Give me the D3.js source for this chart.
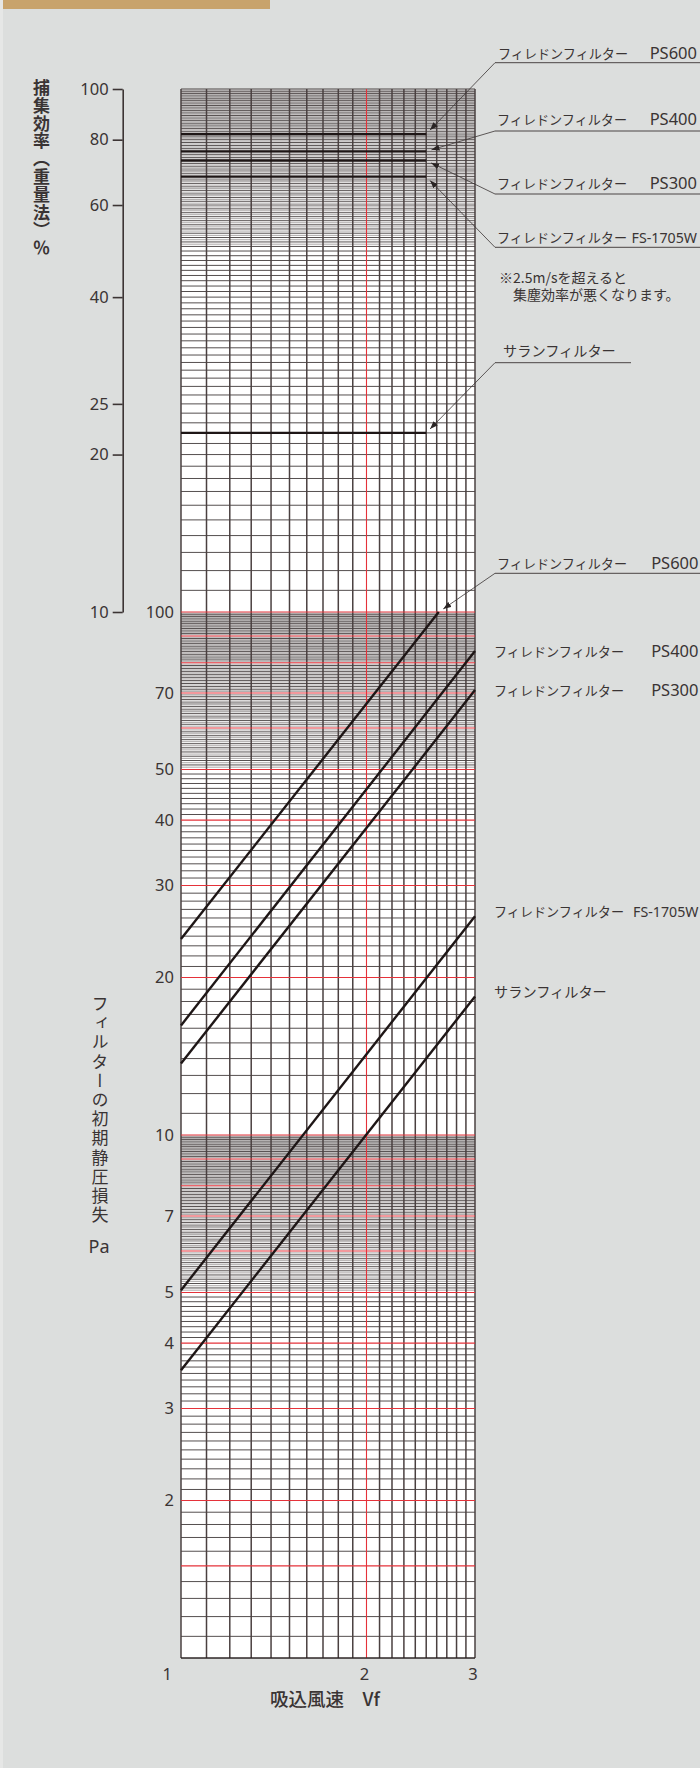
<!DOCTYPE html>
<html><head><meta charset="utf-8">
<script src="https://cdn.jsdelivr.net/npm/d3@7"></script>
<style>
html,body{margin:0;padding:0;background:#dcdedd;}
svg{display:block;}
</style></head><body>
<svg id="c" width="700" height="1768"></svg>
<script>
// ---------- DATA ----------
const velocityTicks = [1, 2, 3];
const efficiencyTicks = [100, 80, 60, 40, 25, 20, 10];
const pressureTicks = [100, 70, 50, 40, 30, 20, 10, 7, 5, 4, 3, 2];
const filterNames = ["フィレドンフィルター", "フィレドンフィルター", "フィレドンフィルター", "フィレドンフィルター", "サランフィルター"];
const filterCodes = ["PS600", "PS400", "PS300", "FS-1705W", ""];
// collection efficiency (%) – horizontal lines from 1 to 2.5 m/s
const efficiencyValues = [82, 76, 73, 68, 22];
const efficiencyVelocityRange = [1, 2.5];
// initial pressure loss (Pa) vs velocity: [velocity, pressure] end points
const pressurePS600 = [[1, 23.7], [2.62, 100]];
const pressurePS400 = [[1, 16.2], [3, 84.2]];
const pressurePS300 = [[1, 13.7], [3, 70.9]];
const pressureFS1705W = [[1, 5.05], [3, 26.2]];
const pressureSaran = [[1, 3.55], [3, 18.4]];
const pressureSeries = [pressurePS600, pressurePS400, pressurePS300, pressureFS1705W, pressureSaran];
const redPressureLines = [1.5, 2, 3, 4, 5, 6, 7, 8, 9, 10, 20, 30, 40, 50, 60, 70, 80, 90, 100];
const noteLines = ["※2.5m/sを超えると", "集塵効率が悪くなります。"];
const effTitle = "捕集効率（重量法）％";
const presTitle = "フィルターの初期静圧損失";
const presUnit = "Pa";
const xTitle = "吸込風速　Vf";

// ---------- SCALES ----------
const svg = d3.select("#c");
const X0 = 181, X1 = 475, YT = 89, YB = 1658;
const x = d3.scaleLog().domain([1, 3]).range([X0, X1]);
const yG = d3.scaleLog().domain([1, 1000]).range([YB, YT]);
const yP = d3.scaleLog().domain([1, 100]).range([YB, yG(100)]);
const yE = d3.scaleLog().domain([10, 100]).range([yG(100), YT]);

const TXT = "#3a3434";
const JP = "'Noto Sans CJK JP', 'Noto Sans', sans-serif";
const LAT = "'Noto Sans', 'Noto Sans CJK JP', sans-serif";

// background details
svg.append("rect").attr("x", 0).attr("y", 0).attr("width", 700).attr("height", 1768).attr("fill", "#dcdedd");
svg.append("rect").attr("x", 0).attr("y", 0).attr("width", 3).attr("height", 1768).attr("fill", "#e6e7e6");
svg.append("rect").attr("x", 3).attr("y", 0).attr("width", 267).attr("height", 9).attr("fill", "#c8a36c");

// ---------- GRID ----------
svg.append("rect").attr("x", X0).attr("y", YT).attr("width", X1 - X0).attr("height", YB - YT).attr("fill", "#fff");

const hMajor = [], hHalf = [];
[1, 10, 100].forEach(b => {
  for (let i = 10; i < 50; i++) hMajor.push(b * i / 10);
  for (let k = 100; k < 200; k++) {
    if (k % 2 === 0) hMajor.push(b * k / 20); else hHalf.push(b * k / 20);
  }
});
hMajor.push(1000);

const grid = svg.append("g");
grid.selectAll(".hh").data(hHalf).join("line")
  .attr("x1", X0).attr("x2", X1).attr("y1", d => yG(d)).attr("y2", d => yG(d))
  .attr("stroke", "#969191").attr("stroke-width", 0.8);
grid.selectAll(".hm").data(hMajor.filter(d => !redPressureLines.includes(d))).join("line")
  .attr("x1", X0).attr("x2", X1).attr("y1", d => yG(d)).attr("y2", d => yG(d))
  .attr("stroke", "#1c1414").attr("stroke-width", 0.75);

const vVals = d3.range(10, 31).map(d => d / 10);
grid.selectAll(".vl").data(vVals.filter(d => d !== 2)).join("line")
  .attr("x1", d => x(d)).attr("x2", d => x(d)).attr("y1", YT).attr("y2", YB)
  .attr("stroke", "#4a4040").attr("stroke-width", 1.5);

grid.selectAll(".hr").data(redPressureLines).join("line")
  .attr("x1", X0).attr("x2", X1).attr("y1", d => yP(d)).attr("y2", d => yP(d))
  .attr("stroke", "#e5323a").attr("stroke-width", 1.1);
grid.append("line").attr("x1", x(2)).attr("x2", x(2)).attr("y1", YT).attr("y2", YB)
  .attr("stroke", "#e5323a").attr("stroke-width", 1.1);
// bottom border
grid.append("line").attr("x1", X0).attr("x2", X1).attr("y1", YB).attr("y2", YB)
  .attr("stroke", "#1c1414").attr("stroke-width", 1.2);

// ---------- DATA LINES ----------
const lineCol = "#1e1616";
svg.append("g").selectAll("line").data(efficiencyValues).join("line")
  .attr("x1", x(efficiencyVelocityRange[0])).attr("x2", x(efficiencyVelocityRange[1]))
  .attr("y1", d => yE(d)).attr("y2", d => yE(d))
  .attr("stroke", lineCol).attr("stroke-width", 2.4);

const pLine = d3.line().x(d => x(d[0])).y(d => yP(d[1]));
svg.append("g").selectAll("path").data(pressureSeries).join("path")
  .attr("d", pLine).attr("fill", "none").attr("stroke", lineCol).attr("stroke-width", 2.4);

// ---------- AXES ----------
const effAxis = svg.append("g").attr("transform", "translate(122.7,0)")
  .call(d3.axisLeft(yE).tickValues(efficiencyTicks).tickFormat(d3.format("d")).tickSize(10).tickSizeOuter(0).tickPadding(4));
effAxis.select(".domain").attr("stroke", "#3c3434").attr("stroke-width", 1.6);
effAxis.selectAll(".tick line").attr("stroke", "#3c3434").attr("stroke-width", 1.6);
effAxis.selectAll("text").attr("fill", TXT).attr("font-size", 16.5).attr("font-family", LAT);

const presAxis = svg.append("g").attr("transform", `translate(${X0},0)`)
  .call(d3.axisLeft(yP).tickValues(pressureTicks).tickFormat(d3.format("d")).tickSize(0).tickPadding(7));
presAxis.select(".domain").remove();
presAxis.selectAll("text").attr("fill", TXT).attr("font-size", 16.5).attr("font-family", LAT);

svg.append("g").selectAll("text").data(velocityTicks).join("text")
  .attr("x", d => d === 1 ? x(d) - 9 : x(d) - 2)
  .attr("y", YB + 22)
  .attr("text-anchor", d => d === 1 ? "end" : "middle")
  .attr("fill", TXT).attr("font-size", 16.5).attr("font-family", LAT)
  .text(d => d);

// titles
svg.append("text").attr("x", 41.5).attr("y", 79)
  .style("writing-mode", "vertical-rl").attr("letter-spacing", 0.8)
  .attr("font-family", JP).attr("font-size", 17).attr("font-weight", 700).attr("fill", TXT)
  .text(effTitle);
svg.append("text").attr("x", 100).attr("y", 995)
  .style("writing-mode", "vertical-rl").attr("letter-spacing", 2.2)
  .attr("font-family", JP).attr("font-size", 17).attr("fill", TXT)
  .text(presTitle);
svg.append("text").attr("x", 99).attr("y", 1253).attr("text-anchor", "middle")
  .attr("font-family", LAT).attr("font-size", 18).attr("fill", TXT).text(presUnit);
svg.append("text").attr("x", 325).attr("y", 1706).attr("text-anchor", "middle")
  .attr("font-family", JP).attr("font-size", 18.5).attr("font-weight", 500).attr("fill", TXT).text(xTitle);

// ---------- LABELS ----------
const defs = svg.append("defs");
defs.append("marker").attr("id", "ah").attr("viewBox", "0 0 8 6").attr("refX", 8).attr("refY", 3)
  .attr("markerWidth", 8).attr("markerHeight", 6).attr("markerUnits", "userSpaceOnUse").attr("orient", "auto")
  .append("path").attr("d", "M0,0L8,3L0,6Z").attr("fill", "#2a2424");

const labG = svg.append("g");
function label(name, code, kx, by, codeEnd) {
  const isSaran = !code;
  labG.append("text").attr("x", kx).attr("y", by).attr("font-family", JP)
    .attr("font-size", isSaran ? 14.2 : 13.1).attr("fill", TXT).text(name);
  if (code) labG.append("text").attr("x", codeEnd).attr("y", by).attr("text-anchor", "end")
    .attr("font-family", LAT).attr("font-size", code.length > 5 ? 14.2 : 16.5).attr("fill", TXT).text(code);
}
function leader(ax, ay, ex, ey, ux2) {
  labG.append("line").attr("x1", ax).attr("x2", ux2).attr("y1", ay).attr("y2", ay)
    .attr("stroke", "#4a4444").attr("stroke-width", 1);
  const dx = ax - ex, dy = ay - ey, L = Math.hypot(dx, dy);
  const tx = ex + dx / L * 5.5, ty = ey + dy / L * 5.5;
  labG.append("line").attr("x1", ax).attr("y1", ay).attr("x2", tx).attr("y2", ty)
    .attr("stroke", "#3a3434").attr("stroke-width", 0.8).attr("marker-end", "url(#ah)");
}
// top (efficiency) labels
const topBase = [58.5, 124.5, 188.5, 242.5, 356];
const topUnder = [62.7, 131, 194, 247.3, 362.7];
const topKx = [498, 497, 497, 497, 503];
filterNames.forEach((n, i) => {
  label(n, filterCodes[i], topKx[i], topBase[i], 697);
  leader(495, topUnder[i], x(efficiencyVelocityRange[1]), yE(efficiencyValues[i]), filterCodes[i] ? 700 : 631);
});
// note (two lines)
svg.append("text").attr("x", 499).attr("y", 282.5).attr("font-family", JP).attr("font-size", 14)
  .attr("fill", TXT).text(noteLines[0]);
svg.append("text").attr("x", 513).attr("y", 300).attr("font-family", JP).attr("font-size", 14)
  .attr("fill", TXT).text(noteLines[1]);

// lower (pressure) labels
const lowBase = [569, 657, 696, 917, 997];
const lowKx = [497, 494, 494, 494, 494];
filterNames.forEach((n, i) => {
  label(n, filterCodes[i], lowKx[i], lowBase[i], 698.5);
});
const e0 = pressurePS600[pressurePS600.length - 1];
leader(495, 573.3, x(e0[0]), yP(e0[1]), 700);
</script>
</body></html>
